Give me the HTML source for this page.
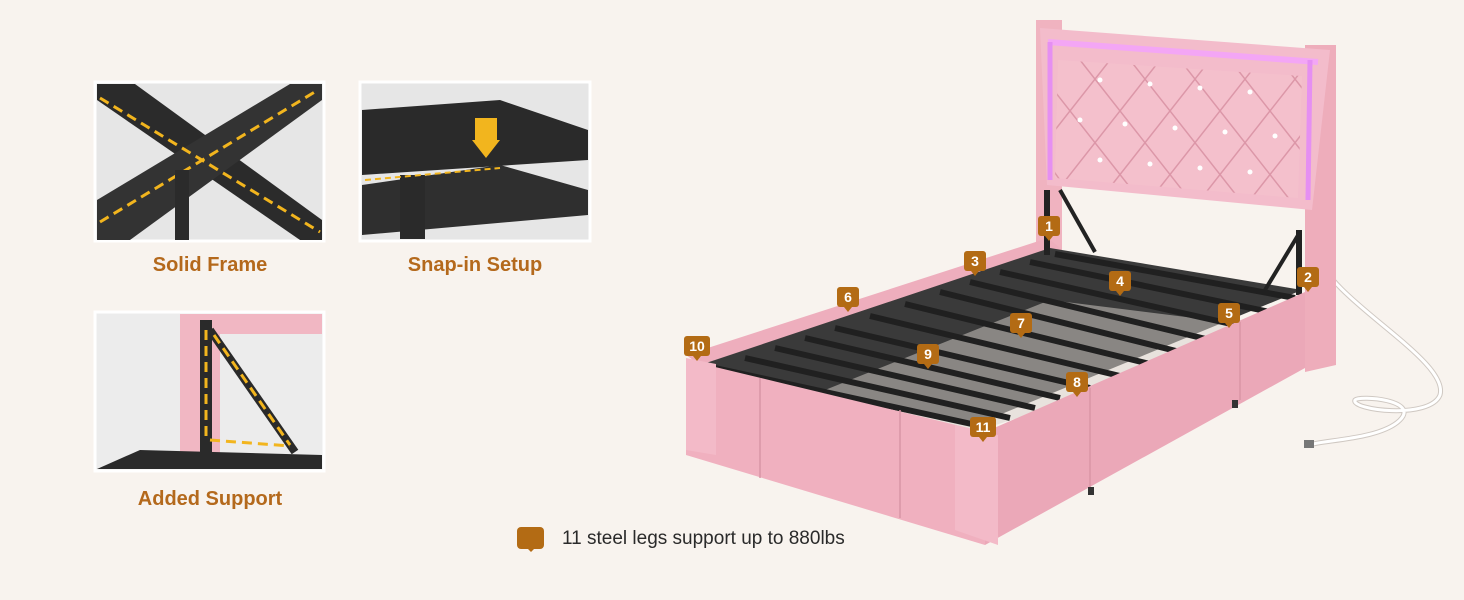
<!DOCTYPE html>
<html><head><meta charset="utf-8"><style>
html,body{margin:0;padding:0;background:#f8f3ee;}
body{width:1464px;height:600px;overflow:hidden;position:relative;font-family:"Liberation Sans",sans-serif;}
.lbl{position:absolute;color:#b4691c;font-weight:bold;font-size:20px;text-align:center;width:240px;}
.cap{position:absolute;left:562px;top:528px;font-size:19px;color:#2a2a2a;}
.ic{position:absolute;left:517px;top:527px;width:27px;height:22px;background:#b36b14;border-radius:4px;}
.ic:after{content:"";position:absolute;left:9px;top:20px;border:5px solid transparent;border-top:5px solid #b36b14;}
</style></head><body>
<svg width="1464" height="600" style="position:absolute;left:0;top:0">
<defs>
<clipPath id="hb"><polygon points="1058,60 1302,76 1298,198 1055,178"/></clipPath>
</defs>
<g>
<rect x="95" y="82" width="229" height="159" fill="#e6e6e6" stroke="#fff" stroke-width="3"/>
<polygon points="97,84 135,84 322,220 322,240 300,240 97,100" fill="#2b2b2b"/>
<polygon points="97,200 290,84 322,84 322,100 130,240 97,240" fill="#333"/>
<line x1="100" y1="98" x2="320" y2="232" stroke="#f2b51e" stroke-width="3" stroke-dasharray="10,6"/>
<line x1="100" y1="222" x2="318" y2="90" stroke="#f2b51e" stroke-width="3" stroke-dasharray="10,6"/>
<rect x="175" y="170" width="14" height="70" fill="#2b2b2b"/>
<rect x="360" y="82" width="230" height="159" fill="#e6e6e6" stroke="#fff" stroke-width="3"/>
<polygon points="362,110 500,100 588,130 588,160 362,175" fill="#2a2a2a"/>
<polygon points="362,185 500,165 588,190 588,215 362,235" fill="#2f2f2f"/>
<rect x="400" y="175" width="25" height="64" fill="#2a2a2a"/>
<rect x="475" y="118" width="22" height="22" fill="#f2b51e"/>
<polygon points="472,140 500,140 486,158" fill="#f2b51e"/>
<line x1="365" y1="180" x2="500" y2="168" stroke="#f2b51e" stroke-width="2" stroke-dasharray="6,4"/>
<rect x="95" y="312" width="229" height="159" fill="#ececec" stroke="#fff" stroke-width="3"/>
<rect x="180" y="314" width="142" height="20" fill="#f1b7c3"/>
<rect x="180" y="314" width="40" height="150" fill="#f1b7c3"/>
<rect x="200" y="320" width="12" height="140" fill="#2a2a2a"/>
<line x1="210" y1="330" x2="295" y2="452" stroke="#2a2a2a" stroke-width="8"/>
<polygon points="97,469 140,450 322,455 322,469" fill="#2a2a2a"/>
<line x1="206" y1="330" x2="206" y2="440" stroke="#f2b51e" stroke-width="3" stroke-dasharray="10,6"/>
<line x1="214" y1="335" x2="290" y2="445" stroke="#f2b51e" stroke-width="3" stroke-dasharray="10,6"/>
<line x1="210" y1="440" x2="290" y2="446" stroke="#f2b51e" stroke-width="3" stroke-dasharray="10,6"/>
</g>
<!-- cord -->
<g fill="none">
<path d="M1318,255 C1330,300 1450,360 1440,395 C1430,420 1350,410 1355,400 C1360,395 1420,400 1400,420 C1380,440 1320,440 1310,445" stroke="#cfc8c2" stroke-width="5"/>
<path d="M1318,255 C1330,300 1450,360 1440,395 C1430,420 1350,410 1355,400 C1360,395 1420,400 1400,420 C1380,440 1320,440 1310,445" stroke="#fff" stroke-width="3"/>
</g>
<rect x="1304" y="440" width="10" height="8" fill="#777"/>
<!-- headboard -->
<polygon points="1036,20 1062,20 1062,255 1036,250" fill="#f0b3c0"/>
<polygon points="1305,45 1336,45 1336,365 1305,372" fill="#eeadbb"/>
<polygon points="1040,28 1330,50 1312,210 1047,185" fill="#f3bccb"/>
<line x1="1048" y1="42" x2="1318" y2="62" stroke="#f3a6f5" stroke-width="6"/>
<line x1="1050" y1="42" x2="1050" y2="180" stroke="#e58ff2" stroke-width="5"/>
<line x1="1310" y1="60" x2="1308" y2="200" stroke="#e58ff2" stroke-width="5"/>
<polygon points="1058,60 1302,76 1298,198 1055,178" fill="#f4c0cc"/>
<g clip-path="url(#hb)" stroke="#dc97a8" stroke-width="1.5">
<path d="M1030,60 L1140,200 M1080,60 L1190,200 M1130,60 L1240,200 M1180,60 L1290,200 M1230,60 L1340,200 M1280,60 L1390,200 M1010,110 L1060,180"/>
<path d="M1110,60 L1000,200 M1160,60 L1050,200 M1210,60 L1100,200 M1260,60 L1150,200 M1310,60 L1200,200 M1360,60 L1250,200 M1410,60 L1300,200"/>
</g>
<g fill="#fff">
<circle cx="1100" cy="80" r="2.5"/><circle cx="1150" cy="84" r="2.5"/><circle cx="1200" cy="88" r="2.5"/><circle cx="1250" cy="92" r="2.5"/>
<circle cx="1080" cy="120" r="2.5"/><circle cx="1125" cy="124" r="2.5"/><circle cx="1175" cy="128" r="2.5"/><circle cx="1225" cy="132" r="2.5"/><circle cx="1275" cy="136" r="2.5"/>
<circle cx="1100" cy="160" r="2.5"/><circle cx="1150" cy="164" r="2.5"/><circle cx="1200" cy="168" r="2.5"/><circle cx="1250" cy="172" r="2.5"/>
</g>
<polygon points="686,355 1048,238 1060,248 700,365" fill="#eeaebd"/>
<polygon points="700,365 1050,248 1302,290 975,425" fill="#3a3a3a"/>
<polygon points="800,400 1050,300 1290,330 980,430" fill="#d8d2cc" opacity=".5"/>
<g stroke="#202020" stroke-width="6">
<line x1="715" y1="368" x2="990" y2="428"/><line x1="745" y1="358" x2="1010" y2="418"/>
<line x1="775" y1="348" x2="1035" y2="408"/><line x1="805" y1="338" x2="1060" y2="398"/>
<line x1="835" y1="328" x2="1090" y2="388"/><line x1="870" y1="316" x2="1120" y2="376"/>
<line x1="905" y1="304" x2="1150" y2="364"/><line x1="940" y1="292" x2="1180" y2="352"/>
<line x1="970" y1="282" x2="1210" y2="340"/><line x1="1000" y1="272" x2="1240" y2="326"/>
<line x1="1030" y1="262" x2="1270" y2="312"/><line x1="1055" y1="254" x2="1295" y2="298"/>
</g>
<line x1="1060" y1="190" x2="1095" y2="252" stroke="#222" stroke-width="4"/>
<line x1="1300" y1="232" x2="1265" y2="290" stroke="#222" stroke-width="4"/>
<rect x="1296" y="230" width="6" height="65" fill="#222"/>
<rect x="1044" y="190" width="6" height="65" fill="#222"/>
<polygon points="686,360 985,432 985,545 686,455" fill="#f0b0bf"/>
<polygon points="985,432 1305,292 1305,368 985,545" fill="#eba8b8"/>
<polygon points="955,425 998,435 998,545 955,530" fill="#f3bac8"/>
<polygon points="686,358 716,364 716,455 686,450" fill="#f3bac8"/>
<g stroke="#d995a6" stroke-width="1.5">
<line x1="760" y1="378" x2="760" y2="478"/><line x1="900" y1="410" x2="900" y2="518"/>
<line x1="1090" y1="388" x2="1090" y2="490"/><line x1="1240" y1="322" x2="1240" y2="400"/>
</g>
<rect x="1232" y="400" width="6" height="8" fill="#333"/>
<rect x="1088" y="487" width="6" height="8" fill="#333"/>
<g font-family="Liberation Sans" font-weight="bold" font-size="14" fill="#fff" text-anchor="middle">
<g transform="translate(1049,227)"><rect x="-11" y="-11" width="22" height="20" rx="3" fill="#b36b14"/><polygon points="-4,9 4,9 0,14" fill="#b36b14"/><text y="4">1</text></g>
<g transform="translate(1308,278)"><rect x="-11" y="-11" width="22" height="20" rx="3" fill="#b36b14"/><polygon points="-4,9 4,9 0,14" fill="#b36b14"/><text y="4">2</text></g>
<g transform="translate(975,262)"><rect x="-11" y="-11" width="22" height="20" rx="3" fill="#b36b14"/><polygon points="-4,9 4,9 0,14" fill="#b36b14"/><text y="4">3</text></g>
<g transform="translate(1120,282)"><rect x="-11" y="-11" width="22" height="20" rx="3" fill="#b36b14"/><polygon points="-4,9 4,9 0,14" fill="#b36b14"/><text y="4">4</text></g>
<g transform="translate(1229,314)"><rect x="-11" y="-11" width="22" height="20" rx="3" fill="#b36b14"/><polygon points="-4,9 4,9 0,14" fill="#b36b14"/><text y="4">5</text></g>
<g transform="translate(848,298)"><rect x="-11" y="-11" width="22" height="20" rx="3" fill="#b36b14"/><polygon points="-4,9 4,9 0,14" fill="#b36b14"/><text y="4">6</text></g>
<g transform="translate(1021,324)"><rect x="-11" y="-11" width="22" height="20" rx="3" fill="#b36b14"/><polygon points="-4,9 4,9 0,14" fill="#b36b14"/><text y="4">7</text></g>
<g transform="translate(1077,383)"><rect x="-11" y="-11" width="22" height="20" rx="3" fill="#b36b14"/><polygon points="-4,9 4,9 0,14" fill="#b36b14"/><text y="4">8</text></g>
<g transform="translate(928,355)"><rect x="-11" y="-11" width="22" height="20" rx="3" fill="#b36b14"/><polygon points="-4,9 4,9 0,14" fill="#b36b14"/><text y="4">9</text></g>
<g transform="translate(697,347)"><rect x="-13" y="-11" width="26" height="20" rx="3" fill="#b36b14"/><polygon points="-4,9 4,9 0,14" fill="#b36b14"/><text y="4">10</text></g>
<g transform="translate(983,428)"><rect x="-13" y="-11" width="26" height="20" rx="3" fill="#b36b14"/><polygon points="-4,9 4,9 0,14" fill="#b36b14"/><text y="4">11</text></g>
</g>
</svg>
<div class="lbl" style="left:90px;top:254px">Solid Frame</div>
<div class="lbl" style="left:355px;top:254px">Snap-in Setup</div>
<div class="lbl" style="left:90px;top:488px">Added Support</div>
<div class="ic"></div>
<div class="cap">11 steel legs support up to 880lbs</div>
</body></html>
